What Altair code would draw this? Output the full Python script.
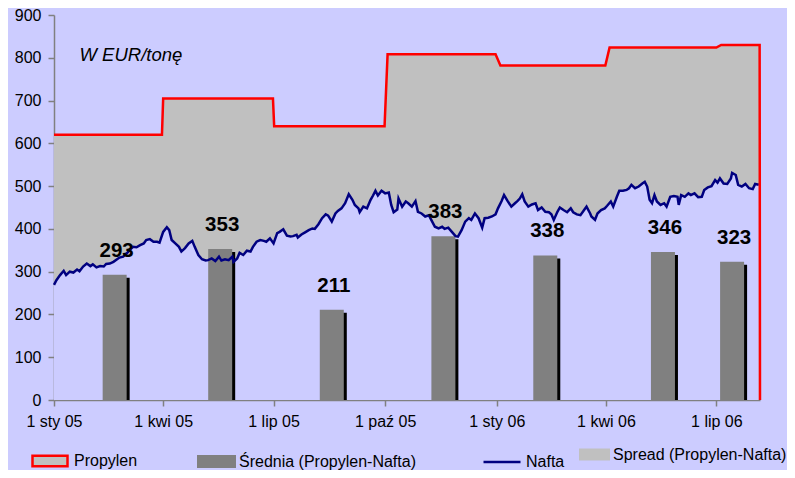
import altair as alt
import pandas as pd

FONT = "Liberation Sans"
BASE = pd.Timestamp("2005-01-01", tz="UTC")


def to_iso(days):
    return [(BASE + pd.to_timedelta(d, unit="D")).strftime("%Y-%m-%dT%H:%M:%SZ") for d in days]


# ---- data (days counted from 1 Jan 2005, values in EUR/tonne) ----
propylen_day = [0, 89, 90, 180.5, 181.5, 272.5, 275, 364, 368, 454.5, 458, 546, 550, 581.7, 582]
propylen_eur = [620, 620, 705, 705, 640, 640, 808, 808, 782, 782, 824, 824, 830, 830, 0]

nafta_day = [0, 2, 5, 8, 10, 13, 16, 19, 21, 24, 27, 30, 32, 35, 38, 41, 43, 46, 49, 52,
             54, 57, 60, 63, 65, 68, 71, 74, 76, 79, 82, 85, 87, 90, 93, 95, 97, 100, 103, 105,
             108, 111, 114, 116, 119, 122, 125, 127, 130, 133, 136, 138, 141, 144, 147, 148, 151, 153, 156, 159,
             162, 164, 167, 170, 173, 175, 178, 181, 184, 186, 189, 192, 195, 197, 200, 201, 204, 207, 210, 213,
             215, 218, 221, 224, 226, 229, 232, 234, 237, 240, 243, 246, 248, 251, 252, 255, 258, 261, 263, 265,
             267, 270, 273, 276, 278, 280, 283, 284, 287, 290, 292, 295, 298, 300, 303, 306, 309, 311, 314, 317,
             320, 322, 325, 328, 331, 333, 336, 339, 342, 344, 347, 350, 353, 355, 358, 361, 364, 366, 369, 371,
             374, 377, 380, 382, 384, 386, 388, 391, 394, 397, 399, 402, 405, 408, 410, 412, 415, 417, 420, 423,
             426, 428, 431, 434, 437, 439, 442, 443, 446, 448, 451, 454, 456, 459, 461, 464, 466, 469, 472, 474,
             476, 479, 482, 485, 487, 489, 491, 493, 495, 497, 500, 503, 505, 508, 511, 514, 515, 517, 520, 523,
             525, 528, 531, 534, 536, 539, 542, 545, 547, 549, 552, 555, 558, 559, 562, 564, 567, 570, 573, 576,
             578, 581]
nafta_eur = [269, 280, 292, 302, 292, 300, 298, 305, 301, 312, 319, 313, 317, 310, 313, 312, 318, 319, 323, 329,
             333, 335, 343, 352, 358, 357, 362, 366, 374, 376, 370, 370, 368, 393, 404, 397, 374, 366, 358, 347,
             355, 366, 372, 358, 339, 329, 326, 327, 331, 325, 335, 326, 329, 327, 335, 323, 331, 344, 339, 349,
             347, 358, 370, 374, 372, 370, 378, 366, 390, 393, 399, 384, 382, 383, 386, 380, 387, 392, 397, 401,
             400, 411, 425, 434, 431, 417, 436, 442, 448, 460, 481, 468, 456, 448, 439, 452, 448, 468, 478, 489,
             478, 489, 483, 485, 456, 439, 445, 471, 452, 464, 460, 452, 465, 440, 436, 429, 432, 421, 405, 401,
             405, 400, 403, 393, 383, 382, 397, 417, 425, 421, 436, 425, 403, 425, 426, 429, 434, 448, 465, 479,
             465, 452, 460, 465, 471, 481, 464, 452, 457, 460, 444, 450, 440, 439, 434, 421, 440, 450, 444, 439,
             448, 439, 434, 432, 444, 452, 436, 429, 421, 436, 444, 448, 454, 464, 452, 475, 489, 489, 491, 495,
             503, 495, 499, 506, 510, 499, 468, 460, 479, 464, 456, 460, 452, 475, 477, 475, 456, 479, 475, 483,
             479, 483, 474, 475, 491, 497, 500, 514, 508, 518, 506, 505, 518, 531, 526, 503, 499, 505, 495, 493,
             505, 503]

avg_day = [50, 137, 229, 321, 405, 502, 559]
avg_eur = [293, 353, 211, 383, 338, 346, 323]

unit_note = "W EUR/tonę"
unit_note_day = [21]
unit_note_eur = [793]

month_pl = ["sty", "lut", "mar", "kwi", "maj", "cze", "lip", "sie", "wrz", "paź", "lis", "gru"]
tick_dates = [(2005, 1), (2005, 4), (2005, 7), (2005, 10), (2006, 1), (2006, 4), (2006, 7)]

# ---- tables ----
prop_df = pd.DataFrame({"date": to_iso(propylen_day), "eur": propylen_eur,
                        "series": "Propylen", "spread": "Spread (Propylen-Nafta)"})
nafta_df = pd.DataFrame({"date": to_iso(nafta_day), "eur": nafta_eur, "series": "Nafta"})
avg_df = pd.DataFrame({"date": to_iso(avg_day), "eur": avg_eur, "series": "Średnia (Propylen-Nafta)"})
note_df = pd.DataFrame({"date": to_iso(unit_note_day), "eur": unit_note_eur, "txt": [unit_note]})

# ---- scales / axes ----
months_js = "[" + ",".join("'%s'" % m for m in month_pl) + "]"
x_axis = alt.Axis(
    values=[alt.DateTime(year=y, month=m, date=1, utc=True) for y, m in tick_dates],
    labelExpr="'1 ' + " + months_js + "[utcmonth(datum.value)] + ' ' + utcFormat(datum.value, '%y')",
    title=None, grid=False, tickSize=6, tickColor="#808080", domainColor="#808080",
    domainWidth=1.5, tickWidth=1.5, labelFont=FONT, labelFontSize=16, labelColor="black",
    labelPadding=7, labelFlush=False, labelOverlap=False,
)
y_axis = alt.Axis(
    values=list(range(0, 901, 100)), title=None, grid=False, tickSize=6, tickColor="#808080",
    domainColor="#808080", domainWidth=1.5, tickWidth=1.5, labelFont=FONT, labelFontSize=16,
    labelColor="black", labelPadding=7,
)
x_enc = alt.X("date:T", axis=x_axis, scale=alt.Scale(
    type="utc", nice=False, padding=0,
    domain=[alt.DateTime(year=2005, month=1, date=1, utc=True),
            alt.DateTime(year=2006, month=8, date=6, utc=True)]))
y_enc = alt.Y("eur:Q", axis=y_axis, scale=alt.Scale(domain=[0, 900], nice=False))

LEG = dict(orient="none", title=None, labelFont=FONT, labelFontSize=16, labelColor="black",
           labelLimit=400, padding=0)

# ---- layers ----
spread_area = alt.Chart(prop_df).mark_area(interpolate="linear").encode(
    x=x_enc, y=y_enc,
    fill=alt.Fill("spread:N", scale=alt.Scale(range=["#C0C0C0"]), legend=alt.Legend(
        legendX=525, legendY=424, symbolType="M-1,-0.387H1V0.387H-1Z", symbolSize=961,
        symbolStrokeWidth=0, labelOffset=3, **LEG)),
)
nafta_area = alt.Chart(nafta_df).mark_area(fill="#CCCCFF").encode(x=x_enc, y=y_enc)

shadow = alt.Chart(avg_df).mark_bar(size=24, xOffset=3, yOffset=3, clip=True, color="black").encode(
    x=x_enc, y=y_enc)
bars = alt.Chart(avg_df).mark_bar(size=24).encode(
    x=x_enc, y=y_enc,
    fill=alt.Fill("series:N", scale=alt.Scale(range=["#808080"]), legend=alt.Legend(
        legendX=143, legendY=427, symbolType="M-1,-0.333H1V0.333H-1Z", symbolSize=1521,
        symbolStrokeWidth=0, labelOffset=3, **LEG)),
)
nafta_line = alt.Chart(nafta_df).mark_line(strokeWidth=2.5).encode(
    x=x_enc, y=y_enc,
    stroke=alt.Stroke("series:N", scale=alt.Scale(range=["#000080"]), legend=alt.Legend(
        legendX=428, legendY=427, symbolType="stroke", symbolSize=1369, symbolStrokeWidth=2.5,
        labelOffset=4, **LEG)),
)
prop_line = alt.Chart(prop_df).mark_line(strokeWidth=2.5).encode(
    x=x_enc, y=y_enc,
    stroke=alt.Stroke("series:N", scale=alt.Scale(range=["#FF0000"]), legend=alt.Legend(
        legendX=-23, legendY=427, symbolType="M-1,-0.3H1V0.3H-1Z", symbolSize=1225,
        symbolFillColor="#C0C0C0", symbolStrokeWidth=2.5, labelOffset=5, **LEG)),
)
labels = alt.Chart(avg_df).mark_text(
    font=FONT, fontSize=20.5, fontWeight="bold", dy=-18, dx=2, baseline="alphabetic", color="black"
).encode(x=x_enc, y=y_enc, text=alt.Text("eur:Q", format="d"))
note = alt.Chart(note_df).mark_text(
    font=FONT, fontSize=18.5, fontStyle="italic", align="left", baseline="alphabetic", color="black"
).encode(x=x_enc, y=y_enc, text="txt:N")

chart = alt.layer(
    spread_area, nafta_area, shadow, bars, nafta_line, prop_line, labels, note
).resolve_scale(fill="independent", stroke="independent").properties(
    width=706, height=385,
    padding={"left": 46, "top": 7, "right": 27, "bottom": 70},
    autosize=alt.AutoSizeParams(type="none"),
    background="#CCCCFF",
).configure_view(stroke=None)

chart.save("out.html", embed_options={"renderer": "svg", "actions": False})
